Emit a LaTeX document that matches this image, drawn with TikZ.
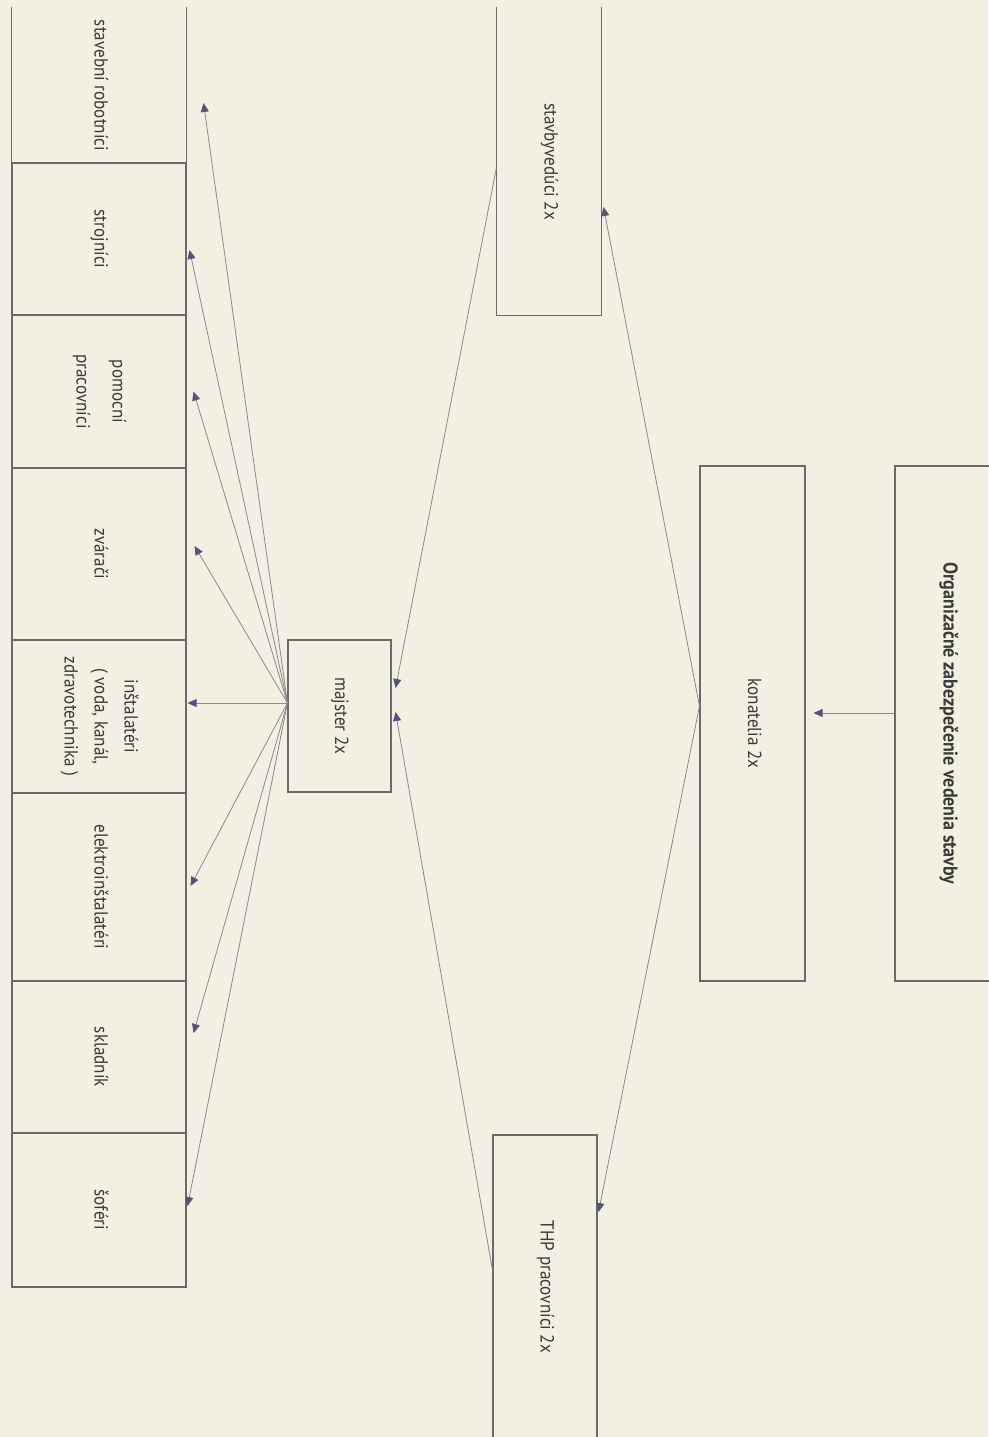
\documentclass[tikz,border=0pt]{standalone}
\usepackage{fontspec}
\setmainfont{PT Sans}[FakeStretch=0.9]
\usepackage{graphicx}
\usetikzlibrary{arrows.meta}
\definecolor{paper}{HTML}{F2EFE3}
\definecolor{boxline}{HTML}{6A6A6A}
\definecolor{wire}{HTML}{8A8990}
\definecolor{tipc}{HTML}{55527C}
\definecolor{ink}{HTML}{3A3A3A}
\newcommand{\vtext}[1]{\rotatebox{-90}{\begin{tabular}{@{}c@{}}#1\end{tabular}}}
\begin{document}
\begin{tikzpicture}[x=1pt,y=-1pt,
  box/.style={draw=boxline, line width=1.1pt, inner sep=0pt, text=ink, font=\fontsize{19}{22}\selectfont},
  openbox/.style={box, draw=none},
  sideline/.style={draw=boxline, line width=1.1pt},
  link/.style={draw=wire, line width=0.8pt, -{Triangle[length=9pt,width=8pt,color=tipc]}}
]
\fill[paper] (0,0) rectangle (988,1437);
\useasboundingbox (0,0) rectangle (988,1437);

% top levels
\node[box, minimum width=106pt, minimum height=515pt] (org) at (948,723.5)
  {\vtext{\fontsize{20}{23}\selectfont\bfseries Organizačné zabezpečenie vedenia stavby}};
\node[box, minimum width=105pt, minimum height=515pt] (kon) at (752.5,723.5)
  {\vtext{konatelia 2x}};
\node[openbox, minimum width=104pt, minimum height=307pt] (stv) at (549,161.5)
  {\vtext{stavbyvedúci 2x}};
\draw[sideline] (stv.north west) -- (stv.south west) -- (stv.south east) -- (stv.north east);
\node[box, minimum width=104pt, minimum height=304pt] (thp) at (545,1287)
  {\vtext{THP pracovníci 2x}};
\node[box, minimum width=103pt, minimum height=152pt] (maj) at (339.5,716)
  {\vtext{majster 2x}};

% workers column
\node[openbox, minimum width=174pt, minimum height=155pt] (r1) at (99,85.5)
  {\vtext{stavební robotníci}};
\draw[sideline] (r1.north west) -- (r1.south west) -- (r1.south east) -- (r1.north east);
\node[box, minimum width=174pt, minimum height=152pt] (r2) at (99,239)
  {\vtext{strojníci}};
\node[box, minimum width=174pt, minimum height=153pt] (r3) at (99,391.5)
  {\vtext{pomocní\\[14pt] pracovníci}};
\node[box, minimum width=174pt, minimum height=172pt] (r4) at (99,554)
  {\vtext{zvárači}};
\node[box, minimum width=174pt, minimum height=153pt] (r5) at (99,716.5)
  {\vtext{inštalatéri\\[8pt] ( voda, kanál,\\[8pt] zdravotechnika )}};
\node[box, minimum width=174pt, minimum height=188pt] (r6) at (99,887)
  {\vtext{elektroinštalatéri}};
\node[box, minimum width=174pt, minimum height=152pt] (r7) at (99,1057)
  {\vtext{skladník}};
\node[box, minimum width=174pt, minimum height=154pt] (r8) at (99,1210)
  {\vtext{šoféri}};

% connectors
\draw[link, shorten >=8pt] ([yshift=10.5pt]org.west) -- ([yshift=10.5pt]kon.east);
\draw[link] ([yshift=17.5pt]kon.west) -- ([xshift=2pt,yshift=-45.5pt]stv.east);
\draw[link] ([yshift=17.5pt]kon.west) -- ([xshift=1pt,yshift=75pt]thp.east);
\draw[link] ([yshift=-6pt]stv.west) -- ([xshift=4pt,yshift=28pt]maj.east);
\draw[link] ([yshift=17pt]thp.west) -- ([xshift=4pt,yshift=4pt]maj.east);

\draw[link] ([yshift=13pt]maj.west) -- ([xshift=17pt,yshift=-17.5pt]r1.east);
\draw[link] ([yshift=13pt]maj.west) -- ([xshift=3pt,yshift=-11pt]r2.east);
\draw[link] ([yshift=13pt]maj.west) -- ([xshift=7pt]r3.east);
\draw[link] ([yshift=13pt]maj.west) -- ([xshift=8pt,yshift=8pt]r4.east);
\draw[link] ([yshift=13pt]maj.west) -- ([xshift=1pt,yshift=13.5pt]r5.east);
\draw[link] ([yshift=13pt]maj.west) -- ([xshift=4pt,yshift=1pt]r6.east);
\draw[link] ([yshift=13pt]maj.west) -- ([xshift=7pt,yshift=24pt]r7.east);
\draw[link] ([yshift=13pt]maj.west) -- ([xshift=1pt,yshift=4pt]r8.east);
\end{tikzpicture}
\end{document}
